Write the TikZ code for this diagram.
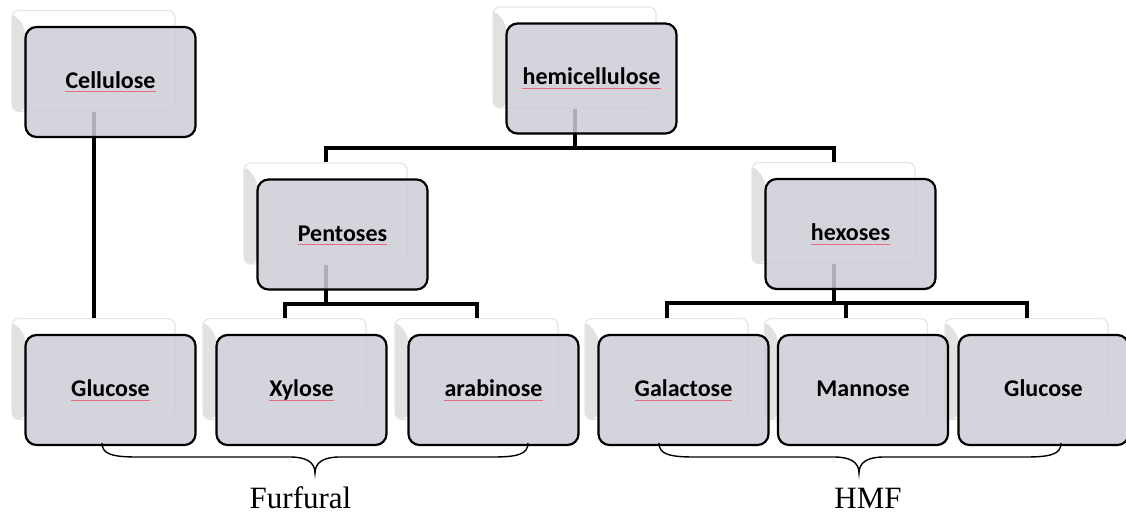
\documentclass[tikz,border=0pt]{standalone}
\usepackage{fontspec}
\setmainfont{Liberation Serif}
\newfontfamily\calib{Carlito}
\definecolor{frontfill}{RGB}{205,205,215}
\definecolor{sqred}{RGB}{230,110,120}
\begin{document}
\begin{tikzpicture}[x=1pt,y=-1pt,
  backbox/.style={draw=gray!20, line width=1.2pt, fill=white, rounded corners=7pt,
    minimum width=163pt, minimum height=101pt, inner sep=0pt,
    path picture={
      \shade[left color=gray!24, right color=gray!6]
        ([yshift=-2pt]path picture bounding box.north west) --
        ([xshift=13pt,yshift=-16pt]path picture bounding box.north west) --
        ([xshift=13pt]path picture bounding box.south west) --
        (path picture bounding box.south west) -- cycle;}},
  frontbox/.style={draw=black, line width=2.2pt, fill=frontfill, fill opacity=0.85,
    rounded corners=11pt, minimum width=170pt, minimum height=110pt, inner sep=0pt},
  txt/.style={inner sep=0pt, anchor=base, font=\calib\bfseries\fontsize{24}{28}\selectfont},
  sq/.style={append after command={
    \pgfextra{\draw[sqred, line width=1pt]
      ([yshift=-3.5pt]\tikzlastnode.base west) -- ([yshift=-3.5pt]\tikzlastnode.base east);}}},
  conn/.style={line width=4pt, draw=black},
  bracepath/.style={line width=1.4pt, draw=black},
  lbl/.style={font=\fontsize{31}{36}\selectfont, inner sep=0pt, anchor=base}
]
\useasboundingbox (0,0) rectangle (1126,513);

% back boxes
\node[backbox] (cellB) at (93.5,61) {};
\node[backbox] (hemiB) at (574.5,57.5) {};
\node[backbox] (pentB) at (325.5,213.5) {};
\node[backbox] (hexB)  at (833.5,213) {};
\node[backbox] (g1B)   at (93.5,369) {};
\node[backbox] (xylB)  at (284.5,369) {};
\node[backbox] (araB)  at (476.5,369) {};
\node[backbox] (galB)  at (666.5,369) {};
\node[backbox] (manB)  at (846,369) {};
\node[backbox] (g2B)   at (1026.5,369) {};

% connectors
\path (hemiB.south) ++(0,39) coordinate (hj);
\path (pentB.south) ++(0,39) coordinate (pj);
\path (hexB.south) ++(0,39) coordinate (xj);
\draw[conn] (cellB.south) -- (g1B.north);
\draw[conn] (hemiB.south) -- (hj);
\draw[conn] (pentB.north) |- (hj) -| (hexB.north);
\draw[conn] (pentB.south) -- (pj);
\draw[conn] (xylB.north) |- (pj) -| (araB.north);
\draw[conn] (hexB.south) -- (xj);
\draw[conn] (galB.north) |- (xj) -| (g2B.north);
\draw[conn] (manB.north) -- (manB.north |- xj);

% front boxes
\node[frontbox] (cell) at (110.5,82) {};
\node[frontbox] (hemi) at (591.5,78.5) {};
\node[frontbox] (pent) at (342.5,234.5) {};
\node[frontbox] (hex)  at (850.5,234) {};
\node[frontbox] (g1)   at (110.5,390) {};
\node[frontbox] (xyl)  at (301.5,390) {};
\node[frontbox] (ara)  at (493.5,390) {};
\node[frontbox] (gal)  at (683.5,390) {};
\node[frontbox] (man)  at (863,390) {};
\node[frontbox] (g2)   at (1043.5,390) {};

% texts
\node[txt,sq] (cellT) at ([yshift=-6.5pt]cell.center) {Cellulose};
\node[txt,sq] (hemiT) at ([yshift=-6.5pt]hemi.center) {hemicellulose};
\node[txt,sq] (pentT) at ([yshift=-6.5pt]pent.center) {Pentoses};
\node[txt,sq] (hexT)  at ([yshift=-6.5pt]hex.center) {hexoses};
\node[txt,sq] (g1T)   at ([yshift=-6.5pt]g1.center) {Glucose};
\node[txt,sq] (xylT)  at ([yshift=-6.5pt]xyl.center) {Xylose};
\node[txt,sq] (araT)  at ([yshift=-6.5pt]ara.center) {arabinose};
\node[txt,sq] (galT)  at ([yshift=-6.5pt]gal.center) {Galactose};
\node[txt] (manT)  at ([yshift=-6.5pt]man.center) {Mannose};
\node[txt] (g2T)   at ([yshift=-6.5pt]g2.center) {Glucose};

% braces
\coordinate (fl) at (102,443);
\coordinate (fr) at (528,443);
\coordinate (ft) at (315,473);
\coordinate (hl) at (659,443);
\coordinate (hr) at (1061,443);
\coordinate (ht) at (859,473);
\draw[bracepath] (fl) .. controls (102,454) and (112,457) .. (137,457) -- (290,457)
  .. controls (306,457) and (315,462) .. (ft)
  .. controls (315,462) and (324,457) .. (340,457) -- (493,457)
  .. controls (518,457) and (528,454) .. (fr);
\draw[bracepath] (hl) .. controls (659,454) and (669,457) .. (694,457) -- (834,457)
  .. controls (850,457) and (859,462) .. (ht)
  .. controls (859,462) and (868,457) .. (884,457) -- (1026,457)
  .. controls (1051,457) and (1061,454) .. (hr);

\node[lbl] (furf) at (300.5,508) {Furfural};
\node[lbl] (hmf) at (868,508) {HMF};
\end{tikzpicture}
\end{document}
